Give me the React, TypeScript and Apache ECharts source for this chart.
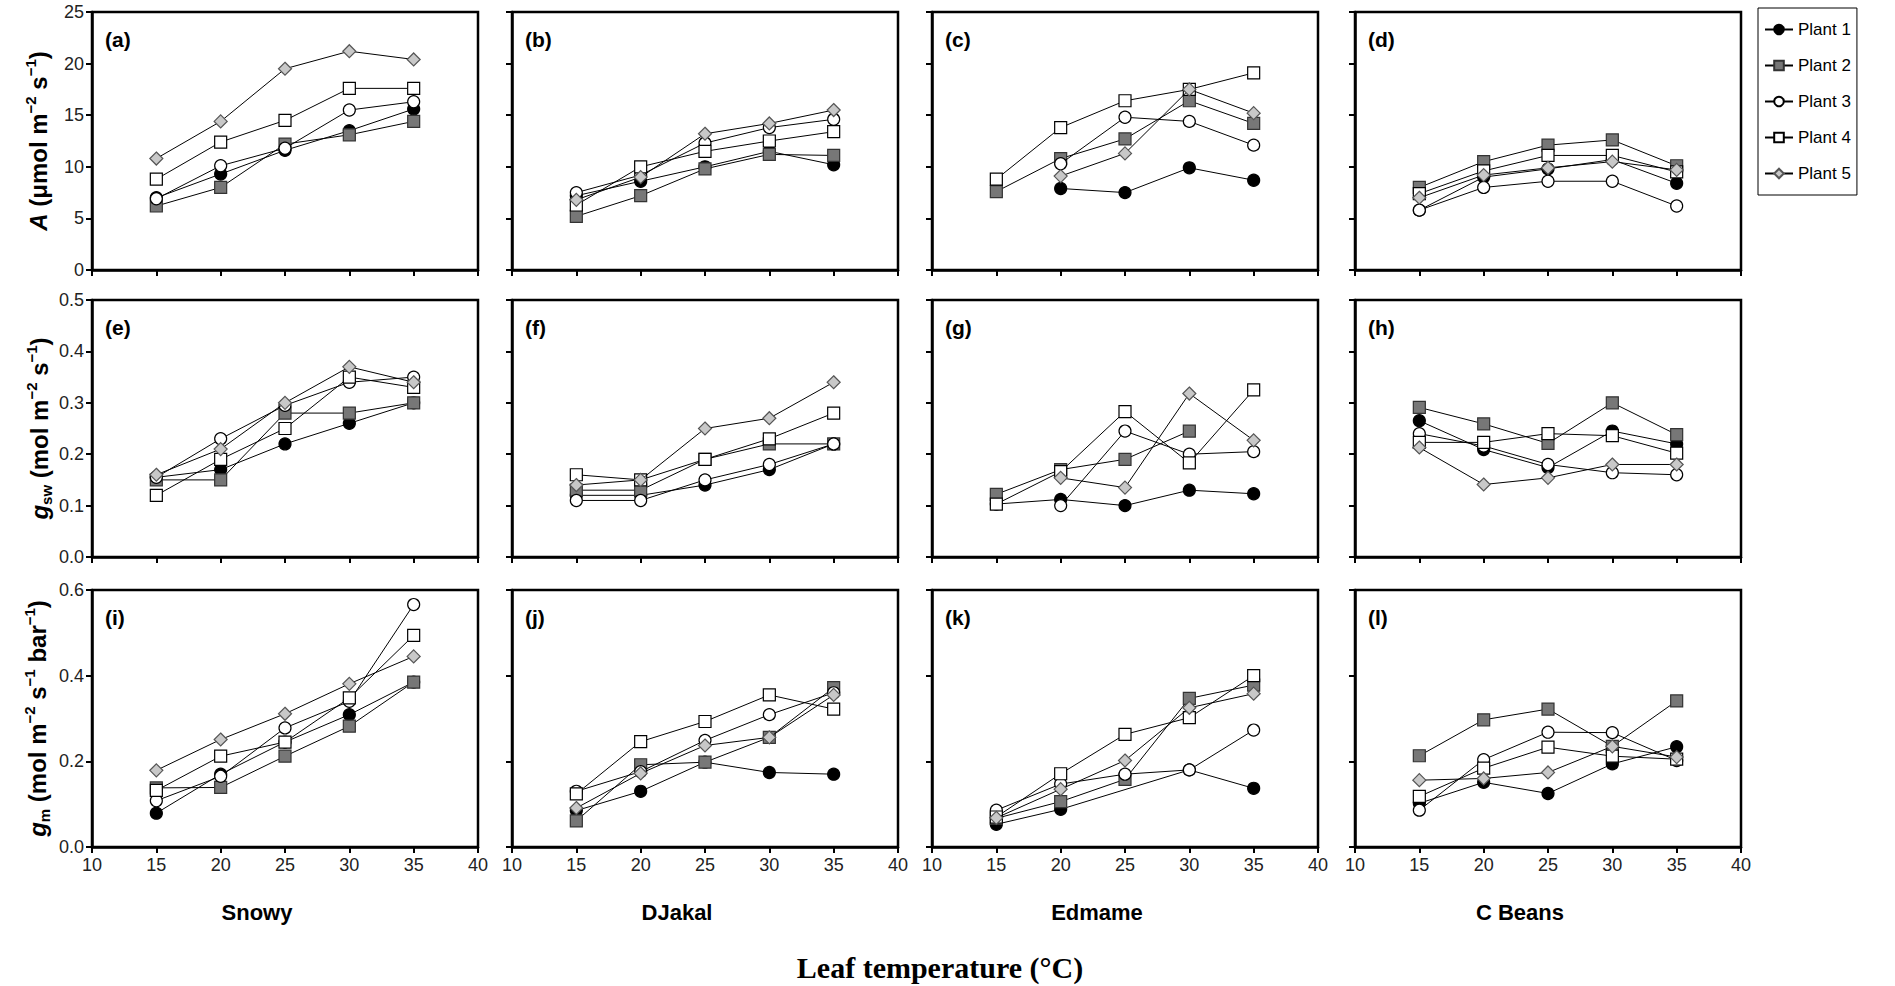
import React, { useEffect, useRef } from "react";
import * as echarts from "echarts";

// ---------- data ----------
const temps = [15, 20, 25, 30, 35];
const plants = ["Plant 1", "Plant 2", "Plant 3", "Plant 4", "Plant 5"];
const cultivars = ["Snowy", "DJakal", "Edmame", "C Beans"];
const panelLetters = ["(a)", "(b)", "(c)", "(d)", "(e)", "(f)", "(g)", "(h)", "(i)", "(j)", "(k)", "(l)"];
const xTicks = [10, 15, 20, 25, 30, 35, 40];
const rowMax = [25, 0.5, 0.6];
const rowInterval = [5, 0.1, 0.2];

// Net assimilation A (µmol m-2 s-1): rows = Plant 1..5, cols = 15..35 °C
const snowyA = [
  [7.0, 9.3, 11.6, 13.5, 15.6],
  [6.2, 8.0, 12.2, 13.1, 14.4],
  [6.9, 10.1, 11.8, 15.5, 16.3],
  [8.8, 12.4, 14.5, 17.6, 17.6],
  [10.8, 14.4, 19.5, 21.2, 20.4],
];
const djakalA = [
  [7.2, 8.6, 10.0, 11.5, 10.2],
  [5.2, 7.2, 9.8, 11.2, 11.1],
  [7.5, 9.2, 12.3, 13.8, 14.6],
  [6.3, 10.0, 11.5, 12.5, 13.4],
  [6.8, 9.0, 13.2, 14.2, 15.5],
];
const edmameA = [
  [null, 7.9, 7.5, 9.9, 8.7],
  [7.6, 10.8, 12.7, 16.4, 14.2],
  [null, 10.3, 14.8, 14.4, 12.1],
  [8.8, 13.8, 16.4, 17.5, 19.1],
  [null, 9.1, 11.3, 17.5, 15.2],
];
const cbeansA = [
  [5.8, 9.0, 9.8, 10.7, 8.4],
  [8.0, 10.5, 12.1, 12.6, 10.1],
  [5.8, 8.0, 8.6, 8.6, 6.2],
  [7.4, 9.6, 11.1, 11.1, 9.5],
  [7.0, 9.2, 9.9, 10.5, 9.7],
];

// Stomatal conductance gsw (mol m-2 s-1)
const snowyGsw = [
  [0.155, 0.17, 0.22, 0.26, 0.3],
  [0.15, 0.15, 0.28, 0.28, 0.3],
  [0.155, 0.23, 0.295, 0.34, 0.35],
  [0.12, 0.19, 0.25, 0.35, 0.33],
  [0.16, 0.21, 0.3, 0.37, 0.34],
];
const djakalGsw = [
  [0.12, 0.12, 0.14, 0.17, 0.22],
  [0.13, 0.13, 0.19, 0.22, 0.22],
  [0.11, 0.11, 0.15, 0.18, 0.22],
  [0.16, 0.15, 0.19, 0.23, 0.28],
  [0.14, 0.15, 0.25, 0.27, 0.34],
];
const edmameGsw = [
  [0.103, 0.112, 0.1, 0.13, 0.123],
  [0.122, 0.17, 0.19, 0.245, null],
  [null, 0.1, 0.245, 0.2, 0.205],
  [0.103, 0.166, 0.283, 0.183, 0.325],
  [null, 0.154, 0.135, 0.318, 0.227],
];
const cbeansGsw = [
  [0.265, 0.209, 0.174, 0.245, 0.22],
  [0.291, 0.259, 0.221, 0.3, 0.238],
  [0.24, 0.216, 0.18, 0.164, 0.16],
  [0.223, 0.223, 0.24, 0.236, 0.202],
  [0.213, 0.141, 0.154, 0.18, 0.18],
];

// Mesophyll conductance gm (mol m-2 s-1 bar-1)
const snowyGm = [
  [0.079, 0.17, 0.245, 0.309, 0.385],
  [0.138, 0.139, 0.212, 0.282, 0.385],
  [0.108, 0.165, 0.278, 0.34, 0.566],
  [0.132, 0.212, 0.245, 0.348, 0.494],
  [0.179, 0.251, 0.311, 0.381, 0.445],
];
const djakalGm = [
  [0.085, 0.13, 0.198, 0.174, 0.17],
  [0.061, 0.192, 0.198, 0.256, 0.372],
  [0.13, 0.176, 0.249, 0.309, 0.36],
  [0.124, 0.246, 0.293, 0.355, 0.322],
  [0.091, 0.172, 0.237, 0.256, 0.355],
];
const edmameGm = [
  [0.053, 0.088, null, 0.18, 0.137],
  [0.067, 0.106, 0.158, 0.347, 0.378],
  [0.086, 0.147, 0.17, 0.18, 0.273],
  [0.07, 0.171, 0.263, 0.302, 0.4],
  [0.068, 0.135, 0.202, 0.325, 0.358],
];
const cbeansGm = [
  [0.102, 0.151, 0.125, 0.194, 0.234],
  [0.213, 0.297, 0.322, 0.235, 0.341],
  [0.086, 0.204, 0.268, 0.267, 0.202],
  [0.118, 0.184, 0.233, 0.212, 0.205],
  [0.156, 0.16, 0.174, 0.235, 0.21],
];

const panels = [
  snowyA, djakalA, edmameA, cbeansA,
  snowyGsw, djakalGsw, edmameGsw, cbeansGsw,
  snowyGm, djakalGm, edmameGm, cbeansGm,
];

// ---------- styling / layout ----------
const FONT = "Liberation Sans, Arial, Helvetica, sans-serif";
const colLeft = [92, 512, 932, 1355];
const colWidth = 386;
const rowTop = [12, 300, 590];
const rowHeight = [258, 257, 257];

const plantSymbols = ["circle", "rect", "circle", "rect", "diamond"];
const plantSizes = [12, 12, 12, 12, 13];
const plantFill = ["#000000", "#777777", "#ffffff", "#ffffff", "#c8c8c8"];
const plantBorder = ["#000000", "#333333", "#000000", "#000000", "#555555"];

function buildOption() {
  const grid: any[] = [];
  const xAxis: any[] = [];
  const yAxis: any[] = [];
  const series: any[] = [];
  const graphic: any[] = [];

  for (let r = 0; r < 3; r++) {
    for (let c = 0; c < 4; c++) {
      const k = r * 4 + c;
      grid.push({
        left: colLeft[c],
        top: rowTop[r],
        width: colWidth,
        height: rowHeight[r],
        show: true,
        borderColor: "#000",
        borderWidth: 2.5,
        backgroundColor: "transparent",
      });
      xAxis.push({
        type: "value",
        gridIndex: k,
        min: xTicks[0],
        max: xTicks[xTicks.length - 1],
        interval: 5,
        axisLine: { show: true, lineStyle: { color: "#000", width: 2.5 } },
        axisTick: { show: true, length: 6, lineStyle: { color: "#000", width: 2 } },
        axisLabel: {
          show: r === 2,
          fontSize: 18,
          color: "#222",
          fontFamily: FONT,
          margin: 9,
        },
        splitLine: { show: false },
      });
      yAxis.push({
        type: "value",
        gridIndex: k,
        min: 0,
        max: rowMax[r],
        interval: rowInterval[r],
        axisLine: { show: true, lineStyle: { color: "#000", width: 2.5 } },
        axisTick: { show: true, length: 6, lineStyle: { color: "#000", width: 2 } },
        axisLabel: {
          show: c === 0,
          fontSize: 18,
          color: "#222",
          fontFamily: FONT,
          margin: 8,
          formatter: (v: number) => (r === 0 ? String(v) : v.toFixed(1)),
        },
        splitLine: { show: false },
      });
      const vals = panels[k];
      for (let p = 0; p < 5; p++) {
        series.push({
          type: "line",
          name: plants[p],
          xAxisIndex: k,
          yAxisIndex: k,
          data: temps.map((t, i) => [t, vals[p][i] === null ? "-" : vals[p][i]]),
          connectNulls: true,
          symbol: plantSymbols[p],
          symbolSize: plantSizes[p],
          showSymbol: true,
          lineStyle: { color: "#000", width: 1 },
          itemStyle: { color: plantFill[p], borderColor: plantBorder[p], borderWidth: 1.2 },
          emphasis: { disabled: true },
          z: 2 + p,
        });
      }
      graphic.push({
        type: "text",
        left: colLeft[c] + 13,
        top: rowTop[r] + 17,
        style: {
          text: panelLetters[k],
          fontSize: 21,
          fontWeight: "bold",
          fontFamily: FONT,
          fill: "#000",
        },
      });
    }
  }

  cultivars.forEach((name, c) => {
    graphic.push({
      type: "text",
      x: colLeft[c] + 165,
      y: 912,
      style: {
        text: name,
        fontSize: 22,
        fontWeight: "bold",
        fontFamily: FONT,
        fill: "#000",
        align: "center",
        verticalAlign: "middle",
      },
    });
  });

  const richBase = {
    b: { fontSize: 24, fontWeight: "bold", fontFamily: FONT, fill: "#000", lineHeight: 30 },
    bi: { fontSize: 24, fontWeight: "bold", fontStyle: "italic", fontFamily: FONT, fill: "#000", lineHeight: 30 },
    sup: { fontSize: 15, fontWeight: "bold", fontFamily: FONT, fill: "#000", lineHeight: 16, verticalAlign: "top" },
    sub: { fontSize: 15, fontWeight: "bold", fontFamily: FONT, fill: "#000", lineHeight: 16, verticalAlign: "bottom" },
  };
  const yTitles = [
    "{bi|A}{b| (μmol m}{sup|−2}{b| s}{sup|−1}{b|)}",
    "{bi|g}{sub|sw}{b| (mol m}{sup|−2}{b| s}{sup|−1}{b|)}",
    "{bi|g}{sub|m}{b| (mol m}{sup|−2}{b| s}{sup|−1}{b| bar}{sup|−1}{b|)}",
  ];
  const yTitleX = [38, 39, 37];
  yTitles.forEach((t, r) => {
    graphic.push({
      type: "text",
      x: yTitleX[r],
      y: rowTop[r] + rowHeight[r] / 2,
      rotation: Math.PI / 2,
      style: {
        text: t,
        rich: richBase,
        align: "center",
        verticalAlign: "middle",
      },
    });
  });

  graphic.push({
    type: "text",
    x: 940,
    y: 967,
    style: {
      text: "Leaf temperature (°C)",
      fontSize: 30,
      fontWeight: "bold",
      fontFamily: "Liberation Serif, Times New Roman, serif",
      fill: "#000",
      align: "center",
      verticalAlign: "middle",
    },
  });

  return {
    animation: false,
    grid,
    xAxis,
    yAxis,
    series,
    graphic,
    legend: {
      data: plants,
      orient: "vertical",
      left: 1758,
      top: 8,
      borderColor: "#000",
      borderWidth: 1,
      padding: [13, 6, 13, 6],
      itemGap: 19,
      itemWidth: 28,
      itemHeight: 12,
      selectedMode: false,
      textStyle: { fontSize: 17, color: "#000", fontFamily: FONT },
    },
  };
}

export default function App() {
  const ref = useRef<HTMLDivElement>(null);
  useEffect(() => {
    if (!ref.current) return;
    const chart = echarts.init(ref.current, null, { renderer: "svg" });
    chart.setOption(buildOption() as any);
    return () => chart.dispose();
  }, []);
  return (
    <div
      ref={ref}
      style={{ position: "absolute", left: 0, top: 0, width: 1895, height: 986, background: "#fff" }}
    />
  );
}
